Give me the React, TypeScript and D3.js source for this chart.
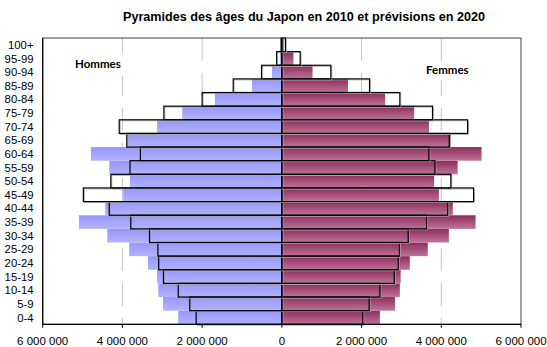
import React from "react";
import * as d3 from "d3";

// Age groups, bottom (youngest) to top (oldest)
const ages = ["0-4", "5-9", "10-14", "15-19", "20-24", "25-29", "30-34", "35-39", "40-44", "45-49", "50-54", "55-59", "60-64", "65-69", "70-74", "75-79", "80-84", "85-89", "90-94", "95-99", "100+"];

// Population in 2010 (filled bars)
const men2010 = [2600000, 2980000, 3100000, 3130000, 3360000, 3830000, 4380000, 5090000, 4430000, 3980000, 3810000, 4330000, 4790000, 3870000, 3130000, 2500000, 1680000, 750000, 250000, 50000, 10000];
const women2010 = [2460000, 2840000, 2960000, 2980000, 3210000, 3660000, 4190000, 4860000, 4290000, 3940000, 3820000, 4410000, 5010000, 4240000, 3690000, 3320000, 2590000, 1660000, 770000, 290000, 50000];

// Projection for 2020 (outlined bars)
const men2020 = [2150000, 2310000, 2600000, 2970000, 3090000, 3110000, 3320000, 3790000, 4330000, 4980000, 4290000, 3810000, 3550000, 3890000, 4080000, 2960000, 2000000, 1220000, 510000, 130000, 20000];
const women2020 = [2030000, 2190000, 2460000, 2820000, 2920000, 2950000, 3170000, 3630000, 4160000, 4810000, 4240000, 3840000, 3690000, 4200000, 4660000, 3780000, 2960000, 2200000, 1230000, 460000, 90000];

const xTicks = [-6000000, -4000000, -2000000, 0, 2000000, 4000000, 6000000];
const gridTicks = [-4000000, -2000000, 2000000, 4000000];

const title = "Pyramides des âges du Japon en 2010 et prévisions en 2020";

const W = 547;
const H = 347;
const plot = { left: 42.7, right: 521, top: 38, bottom: 324.3 };

const fmt = d3.formatLocale({ decimal: ",", thousands: "\u00a0", grouping: [3], currency: ["", ""] }).format(",d");

export default function App() {
  const x = d3.scaleLinear().domain([-6000000, 6000000]).range([plot.left, plot.right]);
  const y = d3.scaleBand<string>().domain([...ages].reverse()).range([plot.top, plot.bottom]).paddingInner(0).paddingOuter(0);
  const bw = y.bandwidth();
  const x0 = x(0);

  const tickFont = "'Liberation Sans', Arial, sans-serif";

  return (
    <svg width={W} height={H} style={{ position: "absolute", left: 0, top: 0, background: "#fff" }}>
      <defs>
        <linearGradient id="gMen" x1="0" y1="0" x2="0" y2="1">
          <stop offset="0" stopColor="#9797fc" />
          <stop offset="1" stopColor="#b2b2ff" />
        </linearGradient>
        <linearGradient id="gWomen" x1="0" y1="0" x2="0" y2="1">
          <stop offset="0" stopColor="#8f2d5d" />
          <stop offset="1" stopColor="#bd7398" />
        </linearGradient>
      </defs>
      <rect x={0} y={0} width={W} height={H} fill="#fff" />

      <text x={304} y={21} textAnchor="middle" fontFamily={tickFont} fontWeight="bold" fontSize={12} textLength={362} lengthAdjust="spacingAndGlyphs" fill="#000">
        {title}
      </text>

      {/* dashed vertical gridlines */}
      {gridTicks.map((t) => (
        <line key={t} x1={x(t)} x2={x(t)} y1={plot.top} y2={plot.bottom} stroke="#c4c4c4" strokeWidth={1} strokeDasharray="23,12" />
      ))}

      {/* series labels on white boxes */}
      <rect x={70} y={53} width={54} height={23} fill="#fff" />
      <text x={75} y={68} fontFamily="Lato, 'Open Sans', sans-serif" fontWeight="bold" fontSize={11.5} fill="#000">Hommes</text>
      <rect x={421} y={61} width={54} height={19} fill="#fff" />
      <text x={426} y={74} fontFamily="Lato, 'Open Sans', sans-serif" fontWeight="bold" fontSize={11.5} fill="#000">Femmes</text>

      {/* 2010 filled bars */}
      {ages.map((a, i) => (
        <g key={"f" + a}>
          <rect x={x(-men2010[i])} y={y(a)} width={x0 - x(-men2010[i])} height={bw} fill="url(#gMen)" />
          <rect x={x0} y={y(a)} width={x(women2010[i]) - x0} height={bw} fill="url(#gWomen)" />
        </g>
      ))}

      {/* 2020 outlined bars */}
      {ages.map((a, i) => (
        <g key={"o" + a} fill="none">
          <rect x={x(-men2020[i]) + 1} y={(y(a) as number) + 1} width={x0 - x(-men2020[i])} height={bw} stroke="#a8a8a8" strokeWidth={0.8} />
          <rect x={x0 + 1} y={(y(a) as number) + 1} width={x(women2020[i]) - x0} height={bw} stroke="#a8a8a8" strokeWidth={0.8} />
          <rect x={x(-men2020[i])} y={y(a)} width={x0 - x(-men2020[i])} height={bw} stroke="#000" strokeWidth={1.2} />
          <rect x={x0} y={y(a)} width={x(women2020[i]) - x0} height={bw} stroke="#000" strokeWidth={1.2} />
        </g>
      ))}

      {/* plot frame */}
      <rect x={plot.left} y={plot.top} width={plot.right - plot.left} height={plot.bottom - plot.top} fill="none" stroke="#404040" strokeWidth={1} />
      <line x1={plot.left} x2={plot.left} y1={plot.top} y2={plot.bottom} stroke="#000" strokeWidth={1.2} />
      <line x1={plot.left} x2={plot.right} y1={plot.bottom} y2={plot.bottom} stroke="#000" strokeWidth={1.2} />

      {/* x axis ticks and labels */}
      {xTicks.map((t) => (
        <g key={"t" + t}>
          <line x1={x(t)} x2={x(t)} y1={plot.bottom} y2={plot.bottom + 3.5} stroke="#000" strokeWidth={1} />
          <text x={x(t)} y={345} textAnchor="middle" fontFamily={tickFont} fontSize={11.5} fill="#000">
            {fmt(Math.abs(t))}
          </text>
        </g>
      ))}

      {/* age group labels */}
      {ages.map((a) => (
        <text key={"l" + a} x={33.5} y={(y(a) as number) + bw / 2} dy="0.36em" textAnchor="end" fontFamily={tickFont} fontSize={11.3} fill="#000">
          {a}
        </text>
      ))}
    </svg>
  );
}
